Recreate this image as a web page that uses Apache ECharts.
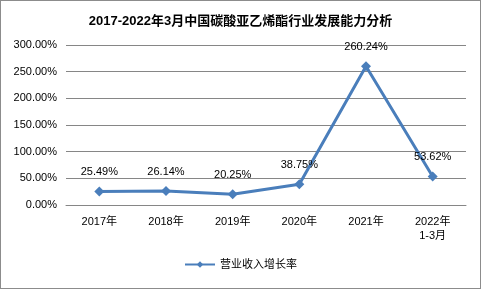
<!DOCTYPE html>
<html><head><meta charset="utf-8">
<script src="https://cdn.jsdelivr.net/npm/echarts@6/dist/echarts.min.js"></script>
<style>
html,body{margin:0;padding:0;background:#fff;}
#c{width:481px;height:289px;box-sizing:border-box;border:1px solid #8c8c8c;}
</style></head><body>
<div id="c"></div>
<script>
var categories = ['2017年','2018年','2019年','2020年','2021年','2022年\n1-3月'];
var growth = [25.49, 26.14, 20.25, 38.75, 260.24, 53.62];
var seriesName = '营业收入增长率';
var titleText = '2017-2022年3月中国碳酸亚乙烯酯行业发展能力分析';

var font = '"Liberation Sans","Noto Sans CJK SC",sans-serif';
var chart = echarts.init(document.getElementById('c'), null, {renderer:'canvas'});
chart.setOption({
  animation:false,
  title:{text:titleText,left:'center',top:9,textStyle:{fontSize:13,fontWeight:'bold',color:'#000',fontFamily:font}},
  grid:{left:65,right:14,top:44,bottom:83,containLabel:false},
  legend:{bottom:13,left:'center',itemWidth:30,itemHeight:8,textStyle:{fontSize:11,color:'#000',fontFamily:font},data:[seriesName]},
  xAxis:{type:'category',data:categories,boundaryGap:true,
    axisLine:{show:true,lineStyle:{color:'#868686'}},axisTick:{show:false},
    axisLabel:{fontSize:11,color:'#000',fontFamily:font,margin:10,lineHeight:14}},
  yAxis:{type:'value',min:0,max:300,interval:50,
    axisLine:{show:false},axisTick:{show:false},
    splitLine:{lineStyle:{color:'#868686'}},
    axisLabel:{fontSize:11,color:'#000',fontFamily:font,margin:9,formatter:function(v){return v.toFixed(2)+'%';}}},
  series:[{name:seriesName,type:'line',data:growth,symbol:'diamond',symbolSize:10,
    lineStyle:{color:'#4a7ebb',width:3},itemStyle:{color:'#4a7ebb'},
    label:{show:true,position:'top',distance:9,fontSize:11,color:'#000',fontFamily:font,formatter:function(p){return p.value.toFixed(2)+'%';}}}]
});
</script></body></html>
